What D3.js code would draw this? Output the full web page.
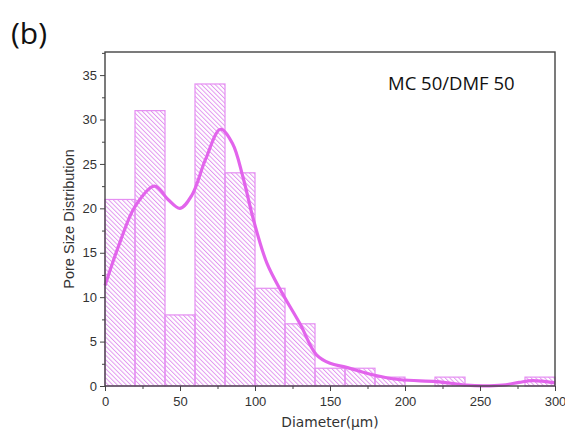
<!DOCTYPE html>
<html lang="en">
<head>
<meta charset="UTF-8">
<title>pore size</title>
<style>
  body { margin: 0; background: #fff; }
  .axis text { font-family: "Liberation Sans", Arial, sans-serif; font-size: 13px; fill: #333; }
  .axis path, .axis line { stroke: #444; }
</style>
</head>
<body>
<div id="chart"></div>
<script src="https://d3js.org/d3.v7.min.js"></script>
<script>
// histogram bins (left edge, width 20) and counts
var binStarts = [0, 20, 40, 60, 80, 100, 120, 140, 160, 180, 200, 220, 240, 260, 280];
var counts    = [21, 31, 8, 34, 24, 11, 7, 2, 2, 1, 0, 1, 0, 0, 1];
// fitted curve
var curveX = [0, 10, 20, 33, 42, 50, 58, 67, 77, 85, 92, 99, 108, 118, 130, 141, 150, 161, 179, 197, 221, 241, 252, 265, 276, 285, 300];
var curveY = [11.3, 16.2, 20.2, 22.5, 21, 20, 21.5, 25.5, 28.9, 27.3, 23.5, 18.7, 13.8, 10.5, 7, 3.5, 2.55, 2.1, 1.24, 0.7, 0.5, 0.1, 0.02, 0.1, 0.4, 0.6, 0.35];
var xTicks = [0, 50, 100, 150, 200, 250, 300];
var yTicks = [0, 5, 10, 15, 20, 25, 30, 35];

var W = 565, H = 434;
var margin = {top: 52, right: 10, bottom: 48, left: 105};
var width = W - margin.left - margin.right;
var height = H - margin.top - margin.bottom;

var svg = d3.select("#chart").append("svg")
  .attr("width", W).attr("height", H);

var defs = svg.append("defs");
var pat = defs.append("pattern")
  .attr("id", "hatch")
  .attr("patternUnits", "userSpaceOnUse")
  .attr("width", 3.2).attr("height", 3.2)
  .attr("patternTransform", "rotate(-45)");
pat.append("line")
  .attr("x1", 0.5).attr("y1", 0).attr("x2", 0.5).attr("y2", 3.2)
  .attr("stroke", "#df8eee").attr("stroke-width", 0.9);

var g = svg.append("g").attr("transform", "translate(" + margin.left + "," + margin.top + ")");

var x = d3.scaleLinear().domain([0, 300]).range([0, width]);
var y = d3.scaleLinear().domain([0, 37.6]).range([height, 0]);

// bars
g.selectAll("rect.bar").data(binStarts).enter().append("rect")
  .attr("class", "bar")
  .attr("x", function(d) { return x(d); })
  .attr("width", function(d) { return x(d + 20) - x(d); })
  .attr("y", function(d, i) { return y(counts[i]); })
  .attr("height", function(d, i) { return y(0) - y(counts[i]); })
  .attr("fill", "url(#hatch)")
  .attr("stroke", "#e58ef2")
  .attr("stroke-width", 1.2);

// curve
var pts = curveX.map(function(d, i) { return [d, curveY[i]]; });
var line = d3.line()
  .x(function(d) { return x(d[0]); })
  .y(function(d) { return y(d[1]); })
  .curve(d3.curveCatmullRom.alpha(0.5));
g.append("path")
  .attr("d", line(pts))
  .attr("fill", "none")
  .attr("stroke", "#e264ec")
  .attr("stroke-width", 3.2);

// axes
var xAxis = d3.axisBottom(x).tickValues(xTicks).tickSize(5).tickPadding(6);
var xMinor = d3.axisBottom(x).tickValues(d3.range(25, 300, 50)).tickSize(3).tickFormat("");
var yAxis = d3.axisLeft(y).tickValues(yTicks).tickSize(5).tickPadding(3);
var yMinor = d3.axisLeft(y).tickValues(d3.range(2.5, 37.6, 5)).tickSize(3).tickFormat("");

g.append("g").attr("class", "axis").attr("transform", "translate(0," + height + ")").call(xMinor)
  .select(".domain").remove();
g.append("g").attr("class", "axis").call(yMinor).select(".domain").remove();
g.append("g").attr("class", "axis").attr("transform", "translate(0," + height + ")").call(xAxis)
  .select(".domain").remove();
g.append("g").attr("class", "axis").call(yAxis).select(".domain").remove();

// frame
g.append("rect")
  .attr("x", 0).attr("y", 0).attr("width", width).attr("height", height)
  .attr("fill", "none").attr("stroke", "#444").attr("stroke-width", 1.4);

// labels
svg.append("text")
  .attr("transform", "translate(74," + (margin.top + height / 2) + ") rotate(-90)")
  .attr("text-anchor", "middle")
  .attr("font-family", "Liberation Sans, Arial, sans-serif")
  .attr("font-size", 14.5).attr("fill", "#333")
  .text("Pore Size Distribution");

svg.append("text")
  .attr("x", margin.left + width / 2).attr("y", 427)
  .attr("text-anchor", "middle")
  .attr("font-family", "DejaVu Sans, sans-serif")
  .attr("font-size", 13.8).attr("fill", "#333")
  .text("Diameter(\u00b5m)");

svg.append("text")
  .attr("x", 11).attr("y", 44)
  .attr("font-family", "Open Sans, sans-serif")
  .attr("font-size", 30).attr("fill", "#111")
  .text("(b)");

svg.append("text")
  .attr("x", 388).attr("y", 90)
  .attr("font-family", "Open Sans, sans-serif")
  .attr("font-size", 18.5).attr("fill", "#111")
  .text("MC 50/DMF 50");
</script>
</body>
</html>
